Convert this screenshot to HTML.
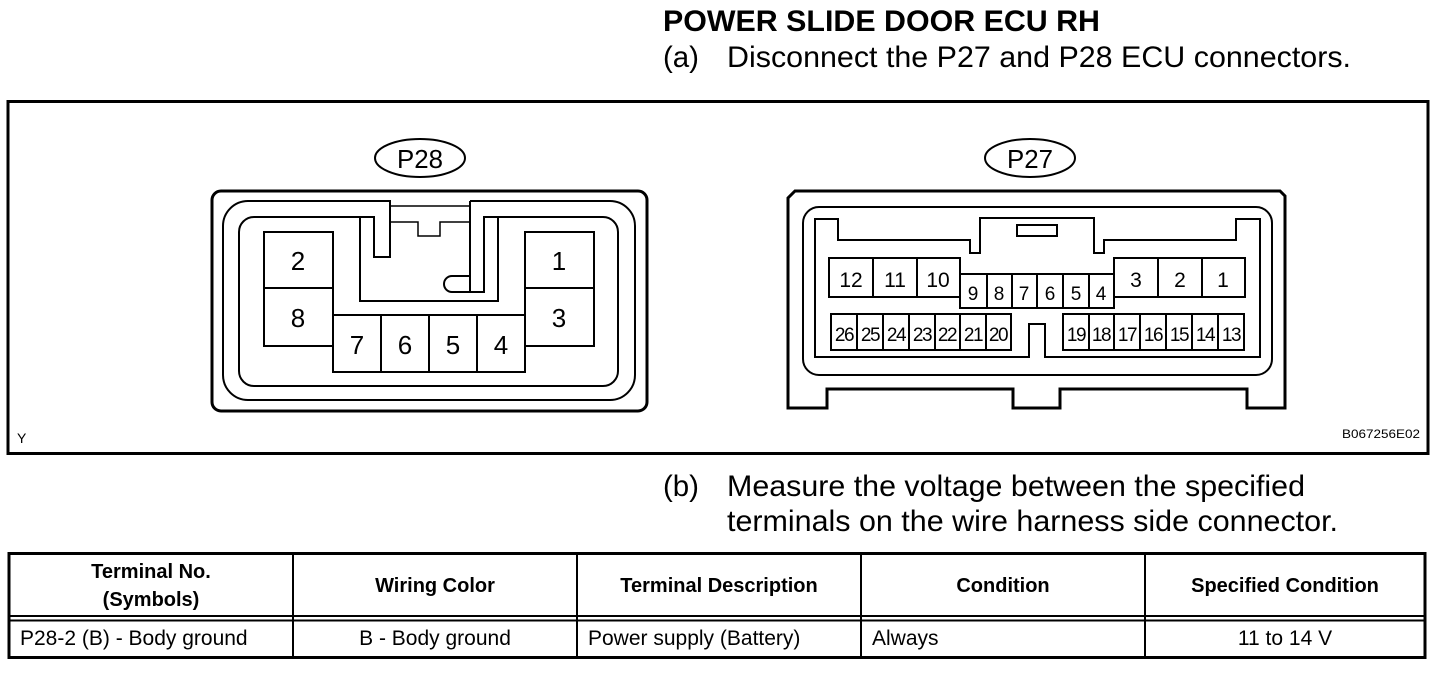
<!DOCTYPE html>
<html><head><meta charset="utf-8"><style>
html,body{margin:0;padding:0;background:#fff;}
svg{display:block;}
text{font-family:"Liberation Sans",Arial,sans-serif;fill:#000;}
</style></head><body>
<svg width="1456" height="690" viewBox="0 0 1456 690" xmlns="http://www.w3.org/2000/svg">
<g fill="none" stroke="#000">
<rect x="8" y="101.5" width="1420" height="352" stroke-width="3"/>
<ellipse cx="420" cy="158" rx="45" ry="19" stroke-width="2"/>
<rect x="212" y="191" width="435" height="220" rx="9" stroke-width="3"/>
<path d="M385,201 H248 A25,25 0 0 0 223,226 V375 A25,25 0 0 0 248,400 H610 A25,25 0 0 0 635,375 V226 A25,25 0 0 0 610,201 H470" stroke-width="2"/>
<path d="M360,217 H254 A15,15 0 0 0 239,232 V371 A15,15 0 0 0 254,386 H603 A15,15 0 0 0 618,371 V232 A15,15 0 0 0 603,217 H484" stroke-width="2"/>
<path d="M360,217 V301 H498 V217 H484 V292 H470 V201" stroke-width="2"/>
<path d="M360,217 H374 V257 H390 V201 H385" stroke-width="2"/>
<path d="M470,276 H452 A8,8 0 0 0 452,292 H470" stroke-width="2"/>
<path d="M390,206 H470 M390,222 H418 V236 H440 V222 H470" stroke-width="1.5"/>
<g stroke-width="2">
<rect x="264" y="232" width="69" height="56"/><rect x="264" y="288" width="69" height="58"/>
<rect x="525" y="232" width="69" height="56"/><rect x="525" y="288" width="69" height="58"/>
<rect x="333" y="315" width="48" height="57"/><rect x="381" y="315" width="48" height="57"/>
<rect x="429" y="315" width="48" height="57"/><rect x="477" y="315" width="48" height="57"/>
</g>
<ellipse cx="1030" cy="158" rx="45" ry="19" stroke-width="2"/>
<path d="M795,191 H1280 L1285,196 V408 H1247 V389 H1060 V408 H1013 V389 H827 V408 H788 V198 Z" stroke-width="3"/>
<rect x="803" y="207" width="469" height="168" rx="16" stroke-width="2"/>
<path d="M815,219 H838 V240 H970 V253 H980 V218 H1094 V253 H1104 V240 H1236 V219 H1260 V357 H1045 V324 H1029 V357 H815 Z" stroke-width="2"/>
<rect x="1017" y="225" width="40" height="11" stroke-width="2"/>
<g stroke-width="2">
<rect x="829" y="258" width="44" height="39"/><rect x="873" y="258" width="44" height="39"/><rect x="917" y="258" width="43" height="39"/>
<rect x="1114" y="258" width="44" height="39"/><rect x="1158" y="258" width="44" height="39"/><rect x="1202" y="258" width="43" height="39"/>
<rect x="960" y="274" width="27" height="34"/><rect x="987" y="274" width="25" height="34"/><rect x="1012" y="274" width="25" height="34"/>
<rect x="1037" y="274" width="26" height="34"/><rect x="1063" y="274" width="26" height="34"/><rect x="1089" y="274" width="25" height="34"/>
<rect x="831" y="314" width="26" height="36"/><rect x="857" y="314" width="26" height="36"/><rect x="883" y="314" width="26" height="36"/>
<rect x="909" y="314" width="26" height="36"/><rect x="935" y="314" width="25" height="36"/><rect x="960" y="314" width="26" height="36"/>
<rect x="986" y="314" width="25" height="36"/>
<rect x="1063" y="314" width="26" height="36"/><rect x="1089" y="314" width="25" height="36"/><rect x="1114" y="314" width="26" height="36"/>
<rect x="1140" y="314" width="26" height="36"/><rect x="1166" y="314" width="26" height="36"/><rect x="1192" y="314" width="26" height="36"/>
<rect x="1218" y="314" width="26" height="36"/>
</g>
<rect x="9" y="553.5" width="1416" height="104" stroke-width="3"/>
<path d="M9,616 H1425 M9,620.5 H1425" stroke-width="2"/>
<path d="M293,553 V658 M577,553 V658 M861,553 V658 M1145,553 V658" stroke-width="2"/>
</g>

<text x="663" y="31" font-size="30" font-weight="bold" textLength="437" lengthAdjust="spacingAndGlyphs">POWER SLIDE DOOR ECU RH</text>
<text x="663" y="67" font-size="30" textLength="36" lengthAdjust="spacingAndGlyphs">(a)</text>
<text x="727" y="67" font-size="30" textLength="624" lengthAdjust="spacingAndGlyphs">Disconnect the P27 and P28 ECU connectors.</text>
<text x="663" y="496" font-size="30" textLength="36" lengthAdjust="spacingAndGlyphs">(b)</text>
<text x="727" y="496" font-size="30" textLength="578" lengthAdjust="spacingAndGlyphs">Measure the voltage between the specified</text>
<text x="727" y="531" font-size="30" textLength="611" lengthAdjust="spacingAndGlyphs">terminals on the wire harness side connector.</text>

<g font-size="26" text-anchor="middle">
<text x="420" y="168" textLength="46" lengthAdjust="spacingAndGlyphs">P28</text>
<text x="1030" y="168" textLength="46" lengthAdjust="spacingAndGlyphs">P27</text>
</g>
<g font-size="26" text-anchor="middle">
<text x="298" y="270">2</text><text x="298" y="327">8</text>
<text x="559" y="270">1</text><text x="559" y="327">3</text>
<text x="357" y="354">7</text><text x="405" y="354">6</text><text x="453" y="354">5</text><text x="501" y="354">4</text>
</g>
<g font-size="21" text-anchor="middle">
<text x="851" y="287">12</text><text x="895" y="287">11</text><text x="938" y="287">10</text>
<text x="1136" y="287">3</text><text x="1180" y="287">2</text><text x="1223" y="287">1</text>
</g>
<g font-size="19" text-anchor="middle">
<text x="973" y="300">9</text><text x="999" y="300">8</text><text x="1024" y="300">7</text>
<text x="1050" y="300">6</text><text x="1076" y="300">5</text><text x="1101" y="300">4</text>
</g>
<g font-size="19" text-anchor="middle" letter-spacing="-1.5">
<text x="844" y="341">26</text><text x="870" y="341">25</text><text x="896" y="341">24</text><text x="922" y="341">23</text>
<text x="947" y="341">22</text><text x="973" y="341">21</text><text x="998" y="341">20</text>
<text x="1076" y="341">19</text><text x="1101" y="341">18</text><text x="1127" y="341">17</text><text x="1153" y="341">16</text>
<text x="1179" y="341">15</text><text x="1205" y="341">14</text><text x="1231" y="341">13</text>
</g>
<text x="17" y="443" font-size="14">Y</text>
<text x="1342" y="438" font-size="12" textLength="78" lengthAdjust="spacingAndGlyphs">B067256E02</text>

<g font-size="20" font-weight="bold" text-anchor="middle">
<text x="151" y="578">Terminal No.</text>
<text x="151" y="606">(Symbols)</text>
<text x="435" y="592">Wiring Color</text>
<text x="719" y="592">Terminal Description</text>
<text x="1003" y="592">Condition</text>
<text x="1285" y="592">Specified Condition</text>
</g>
<g font-size="21">
<text x="20" y="645">P28-2 (B) - Body ground</text>
<text x="435" y="645" text-anchor="middle">B - Body ground</text>
<text x="588" y="645">Power supply (Battery)</text>
<text x="872" y="645">Always</text>
<text x="1285" y="645" text-anchor="middle">11 to 14 V</text>
</g>
</svg>
</body></html>
